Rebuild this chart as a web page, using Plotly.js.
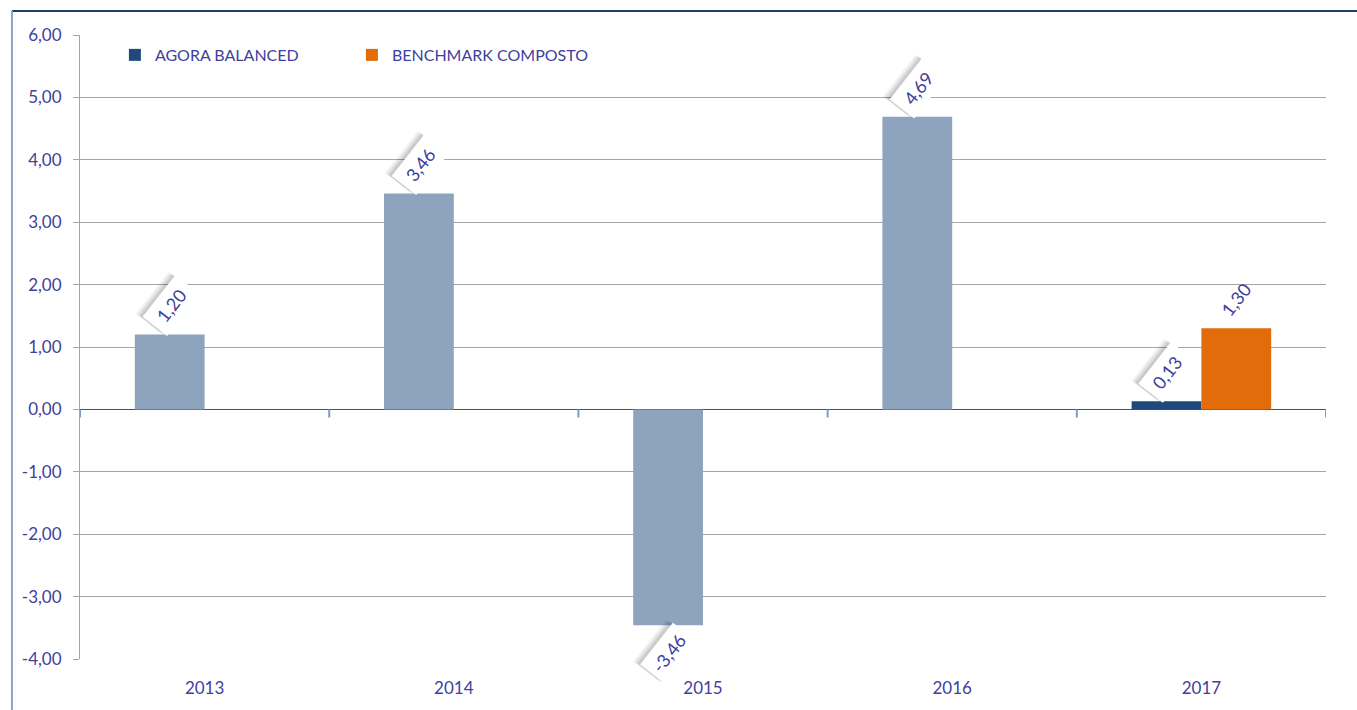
<!DOCTYPE html>
<html>
<head>
<meta charset="utf-8">
<script src="https://cdn.plot.ly/plotly-3.0.1.min.js"></script>
<style>html,body{margin:0;padding:0;background:#fff;}#chart{width:1357px;height:710px;}</style>
</head>
<body>
<div id="chart"></div>
<script>
const years = ['2013', '2014', '2015', '2016', '2017'];
const agora = [1.20, 3.46, -3.46, 4.69, 0.13];
const benchmark = [null, null, null, null, 1.30];
const seriesNames = ['AGORA BALANCED', 'BENCHMARK COMPOSTO'];
const yTicks = [-4, -3, -2, -1, 0, 1, 2, 3, 4, 5, 6];

const TXT = '#4040A0';
const FONT = 'Lato, "Open Sans", sans-serif';
const fmt = v => v.toFixed(2).replace('.', ',');

const traces = [
  {
    type: 'bar', x: [years[4]], y: [agora[4]], name: seriesNames[0],
    offsetgroup: 'a', marker: {color: '#1F497D'}, showlegend: true
  },
  {
    type: 'bar', x: years.slice(0, 4), y: agora.slice(0, 4), name: seriesNames[0] + ' ',
    offsetgroup: 'a', marker: {color: '#8DA3BE'}, showlegend: false
  },
  {
    type: 'bar', x: years, y: benchmark, name: seriesNames[1],
    offsetgroup: 'b', marker: {color: '#E36C0A'}
  }
];

const annotations = [];
function addLabel(idx, v, side, boxed) {
  const shift = v >= 0 ? 29 : -28;
  const xs = side === 0 ? -34 : 35;
  const base = {x: idx, y: v, xref: 'x', yref: 'y', showarrow: false, textangle: -52,
    width: 50, height: 28, xanchor: 'center', yanchor: 'middle', text: fmt(v)};
  if (boxed) {
    [[-7, 3, 0.05], [-5, 2, 0.07], [-3, 1, 0.09]].forEach(([dx, dy, a]) => {
      annotations.push(Object.assign({}, base, {
        xshift: xs + dx, yshift: shift + dy,
        font: {family: FONT, size: 18, color: 'rgba(0,0,0,0)'},
        bgcolor: 'rgba(0,0,0,' + a + ')'
      }));
    });
  }
  annotations.push(Object.assign({}, base, {
    xshift: xs, yshift: shift,
    font: {family: FONT, size: 18, color: TXT},
    bgcolor: boxed ? '#FFFFFF' : 'rgba(0,0,0,0)'
  }));
}
years.forEach((yr, i) => {
  if (agora[i] !== null) addLabel(i, agora[i], 0, true);
  if (benchmark[i] !== null) addLabel(i, benchmark[i], 1, false);
});

const shapes = [
  {type: 'line', xref: 'paper', yref: 'paper', x0: -0.0546, x1: 1.03, y0: 1.0385, y1: 1.0385, line: {color: '#1F3E6E', width: 2}},
  {type: 'line', xref: 'paper', yref: 'paper', x0: -0.0546, x1: -0.0546, y0: 1.0385, y1: -0.09, line: {color: '#8FA3C3', width: 2}}
];
for (let i = 0; i <= years.length; i++) {
  shapes.push({type: 'line', xref: 'x', yref: 'y', x0: i - 0.5, x1: i - 0.5, y0: 0, y1: -0.13,
    line: {color: '#7F9CC4', width: 2}});
}

const layout = {
  width: 1357, height: 710,
  margin: {l: 80, r: 31, t: 35, b: 51},
  paper_bgcolor: '#FFFFFF', plot_bgcolor: '#FFFFFF',
  separators: ',.',
  font: {family: FONT, color: TXT},
  barmode: 'group', bargap: 0.44, bargroupgap: 0,
  showlegend: true,
  legend: {
    orientation: 'h', x: 0.028, y: 0.968, xanchor: 'left', yanchor: 'middle',
    font: {family: FONT, size: 16, color: TXT}, bgcolor: 'rgba(0,0,0,0)',
    entrywidth: 192, entrywidthmode: 'pixels', traceorder: 'normal'
  },
  xaxis: {
    type: 'category', categoryorder: 'array', categoryarray: years, range: [-0.5, 4.5],
    showgrid: false, showline: false, zeroline: false, ticks: '', ticklabelstandoff: 17,
    tickfont: {family: FONT, size: 17, color: TXT}
  },
  yaxis: {
    range: [-4, 6], tickmode: 'array', tickvals: yTicks, ticktext: yTicks.map(fmt),
    showgrid: true, gridcolor: '#A6A6A6', gridwidth: 1,
    zeroline: true, zerolinecolor: '#2F5597', zerolinewidth: 1.5,
    showline: true, linecolor: '#A6A6A6', linewidth: 1,
    ticks: 'outside', ticklen: 6, tickcolor: '#A6A6A6', ticklabelstandoff: 8,
    tickfont: {family: FONT, size: 17, color: TXT}
  },
  annotations: annotations,
  shapes: shapes
};

Plotly.newPlot('chart', traces, layout, {displayModeBar: false, staticPlot: true});
</script>
</body>
</html>
